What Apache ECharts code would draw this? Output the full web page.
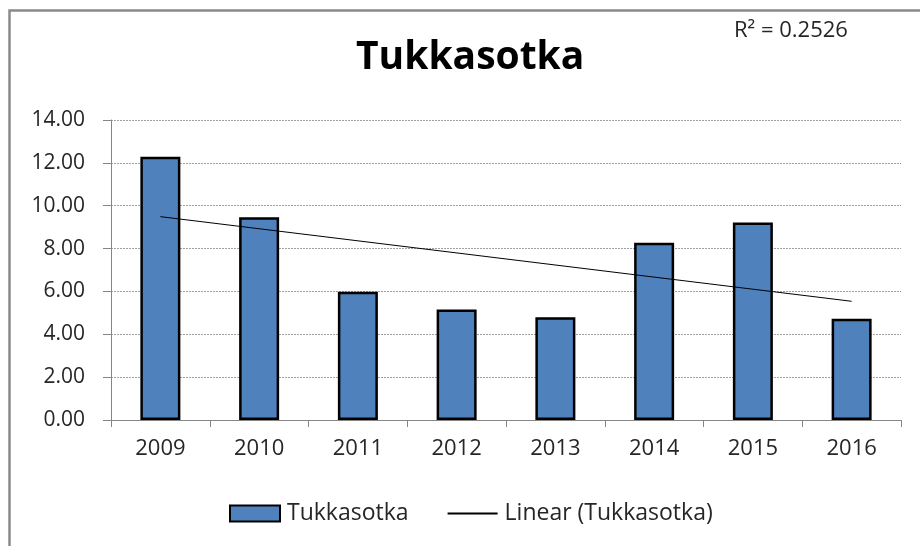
<!DOCTYPE html>
<html>
<head>
<meta charset="utf-8">
<script src="https://cdn.jsdelivr.net/npm/echarts@6/dist/echarts.min.js"></script>
<style>
  html, body { margin: 0; padding: 0; background: #fff; }
  #chart { width: 920px; height: 546px; }
</style>
</head>
<body>
<div id="chart"></div>
<script>
const years = ['2009', '2010', '2011', '2012', '2013', '2014', '2015', '2016'];
const counts = [12.29, 9.46, 5.99, 5.16, 4.79, 8.27, 9.22, 4.73];
// linear trend endpoints (first and last year)
const trendValues = [9.49, null, null, null, null, null, null, 5.54];
const rSquared = 'R² = 0.2526';

const chart = echarts.init(document.getElementById('chart'));
const font = '"Open Sans", "Noto Sans", sans-serif';

chart.setOption({
  animation: false,
  backgroundColor: '#fff',
  textStyle: { fontFamily: font, color: '#262626' },
  title: [
    {
      text: 'Tukkasotka',
      left: 351,
      top: 33,
      textStyle: { fontFamily: font, fontSize: 39, fontWeight: 'bold', color: '#000' },
    },
    {
      text: rSquared,
      left: 729,
      top: 15,
      textStyle: { fontFamily: font, fontSize: 22, fontWeight: 'normal', color: '#262626' },
    },
  ],
  graphic: [
    {
      type: 'rect',
      left: 7,
      top: 8,
      shape: { width: 1000, height: 1000 },
      style: { fill: 'none', stroke: '#8a8a8a', lineWidth: 2.5 },
      silent: true,
    },
  ],
  legend: {
    top: 497,
    left: 224,
    itemWidth: 50,
    itemHeight: 16,
    itemGap: 38,
    textStyle: { fontFamily: font, fontSize: 23, color: '#262626', padding: [0, 0, 0, 2] },
    data: [
      { name: 'Tukkasotka', icon: 'rect' },
      {
        name: 'Linear (Tukkasotka)',
        itemStyle: { color: 'rgba(0,0,0,0)', borderColor: 'rgba(0,0,0,0)', borderWidth: 0 },
      },
    ],
  },
  grid: {
    left: 111,
    right: 19,
    top: 120,
    bottom: 126,
  },
  xAxis: {
    type: 'category',
    data: years,
    axisLine: { lineStyle: { color: '#868686', width: 1 } },
    axisTick: { show: true, length: 7, lineStyle: { color: '#868686' } },
    axisLabel: { fontFamily: font, fontSize: 22, color: '#262626', margin: 18 },
  },
  yAxis: {
    type: 'value',
    min: 0,
    max: 14,
    interval: 2,
    axisLine: { show: true, lineStyle: { color: '#868686', width: 1 } },
    axisTick: { show: true, length: 8, lineStyle: { color: '#868686' } },
    axisLabel: {
      fontFamily: font,
      fontSize: 21,
      color: '#262626',
      margin: 26,
      formatter: (v) => v.toFixed(2),
    },
    splitLine: { lineStyle: { color: '#a0a0a0', type: [2, 1], width: 1 } },
  },
  series: [
    {
      name: 'Tukkasotka',
      type: 'bar',
      data: counts,
      barWidth: 40,
      itemStyle: { color: '#4F81BD', borderColor: '#000', borderWidth: 2.5 },
    },
    {
      name: 'Linear (Tukkasotka)',
      type: 'line',
      data: trendValues,
      connectNulls: true,
      symbol: 'none',
      lineStyle: { color: '#000', width: 1 },
      itemStyle: { color: '#000' },
    },
  ],
});
</script>
</body>
</html>
